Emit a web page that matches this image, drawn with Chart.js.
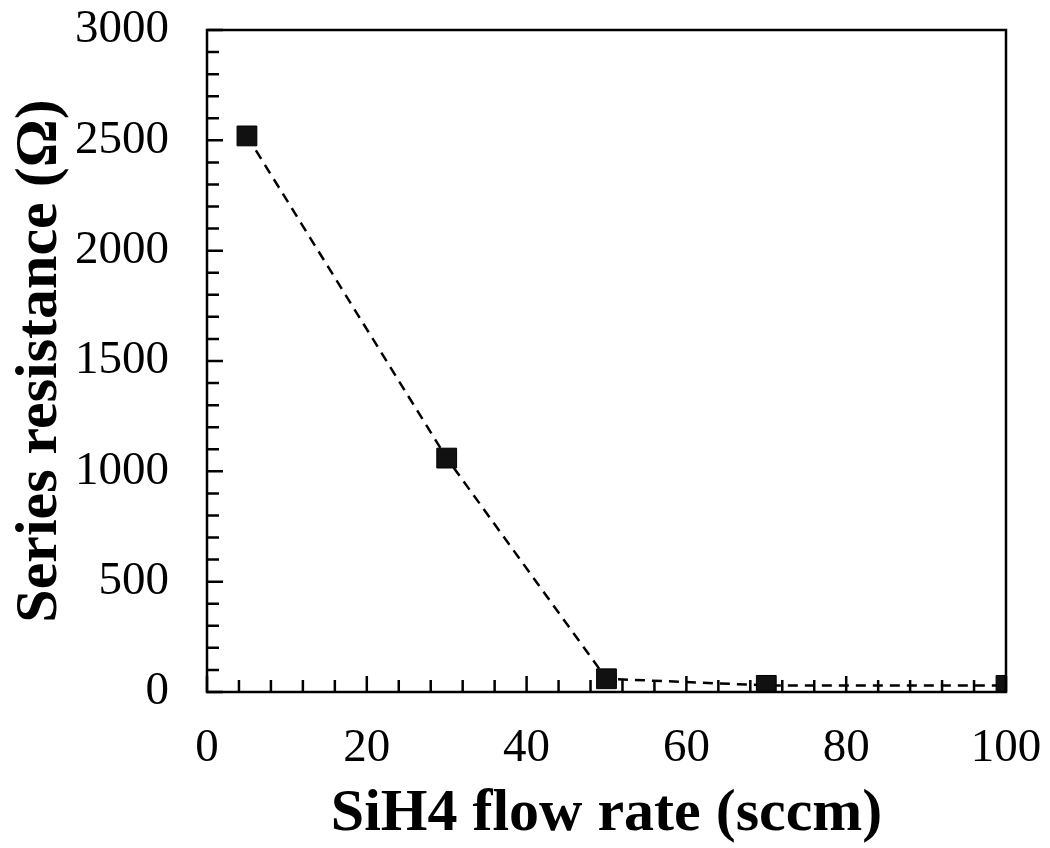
<!DOCTYPE html>
<html>
<head>
<meta charset="utf-8">
<script src="https://cdn.jsdelivr.net/npm/chart.js@4/dist/chart.umd.min.js"></script>
<style>
  html, body { margin: 0; padding: 0; background: #fff; }
  #wrap { width: 1050px; height: 848px; }
</style>
</head>
<body>
<div id="wrap"><canvas id="chart" width="1050" height="848"></canvas></div>
<script>
const flowRate = [5, 30, 50, 70, 100];
const resistance = [2520, 1060, 60, 30, 30];
const xTicks = [0, 20, 40, 60, 80, 100];
const yTicks = [0, 500, 1000, 1500, 2000, 2500, 3000];

// inward ticks + full frame
const frame = {
    id: 'frame',
    afterDatasetsDraw(chart) {
        const { ctx, chartArea: a, scales: { x, y } } = chart;
        ctx.save();
        ctx.strokeStyle = '#000';
        ctx.lineWidth = 2.5;
        ctx.strokeRect(a.left, a.top, a.right - a.left, a.bottom - a.top);
        ctx.beginPath();
        for (let v = 0; v <= 100; v += 4) {
            const px = x.getPixelForValue(v);
            const len = v % 20 === 0 ? 16 : 12;
            ctx.moveTo(px, a.bottom);
            ctx.lineTo(px, a.bottom - len);
        }
        for (let v = 0; v <= 3000; v += 100) {
            const py = y.getPixelForValue(v);
            const len = v % 500 === 0 ? 16 : 12;
            ctx.moveTo(a.left, py);
            ctx.lineTo(a.left + len, py);
        }
        ctx.stroke();
        ctx.restore();
    }
};

new Chart(document.getElementById('chart'), {
    type: 'scatter',
    data: {
        datasets: [{
            data: flowRate.map((v, i) => ({ x: v, y: resistance[i] })),
            showLine: true,
            borderColor: '#000',
            borderWidth: 2.5,
            borderDash: [10, 7],
            pointStyle: 'rect',
            pointRadius: 14,
            pointBackgroundColor: '#111',
            pointBorderColor: '#000',
            pointBorderWidth: 1
        }]
    },
    options: {
        responsive: false,
        animation: false,
        layout: { padding: { top: 30, right: 44, left: 0, bottom: 0 } },
        plugins: { legend: { display: false }, tooltip: { enabled: false } },
        scales: {
            x: {
                type: 'linear',
                min: 0, max: 100,
                afterBuildTicks: s => { s.ticks = xTicks.map(v => ({ value: v })); },
                afterFit: s => { s.height = 156; s.paddingLeft = 0; s.paddingRight = 0; },
                grid: { display: false },
                border: { display: false },
                ticks: {
                    color: '#000',
                    padding: 20,
                    callback: v => String(v),
                    font: { family: 'Liberation Serif', size: 47 }
                },
                title: {
                    display: true,
                    text: 'SiH4 flow rate (sccm)',
                    color: '#000',
                    padding: { top: 0, bottom: 4 },
                    font: { family: 'Liberation Serif', size: 60, weight: 'bold', lineHeight: 1 }
                }
            },
            y: {
                min: 0, max: 3000,
                afterBuildTicks: s => { s.ticks = yTicks.map(v => ({ value: v })); },
                afterFit: s => { s.width = 207; s.paddingTop = 0; s.paddingBottom = 0; },
                grid: { display: false },
                border: { display: false },
                ticks: {
                    color: '#000',
                    padding: 30,
                    callback: v => String(v),
                    font: { family: 'Liberation Serif', size: 47 }
                },
                title: {
                    display: true,
                    text: 'Series resistance (Ω)',
                    color: '#000',
                    padding: { bottom: 0 },
                    font: { family: 'Liberation Serif', size: 60, weight: 'bold' }
                }
            }
        }
    },
    plugins: [frame]
});
</script>
</body>
</html>
